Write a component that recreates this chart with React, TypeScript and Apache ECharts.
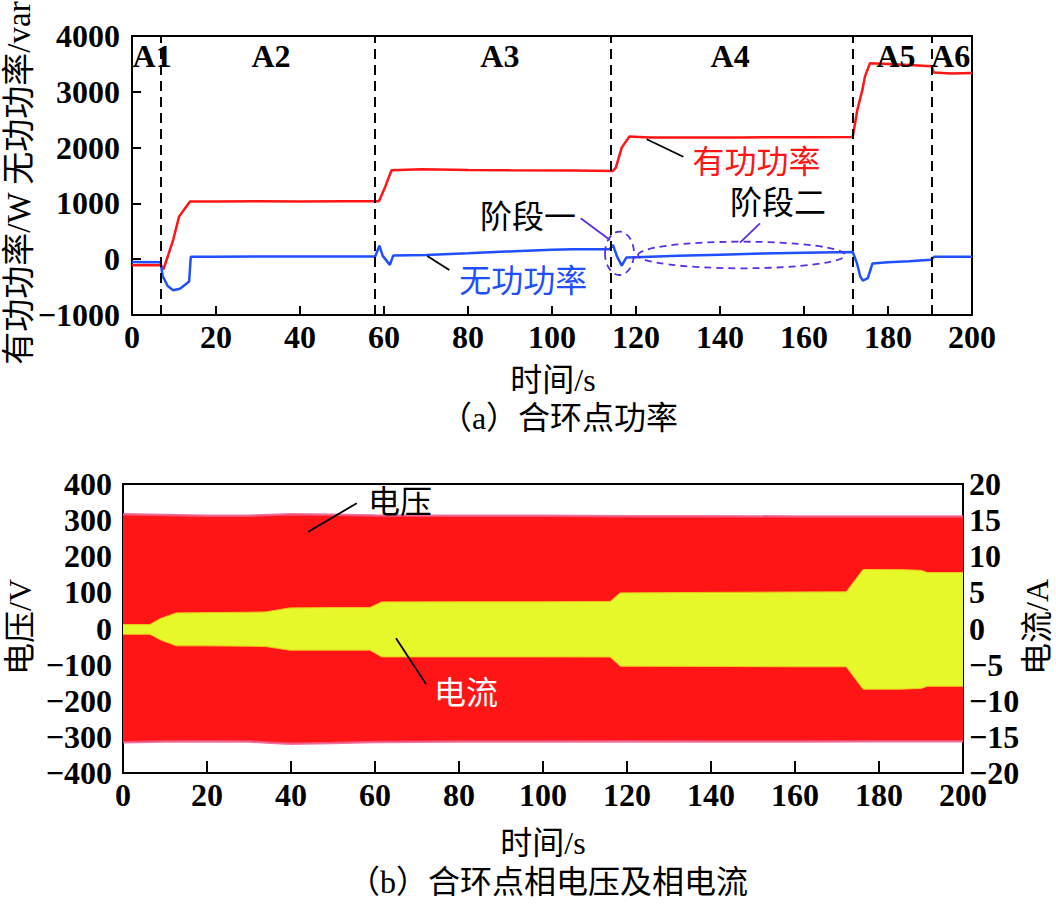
import React, { useEffect, useRef } from "react";
import * as echarts from "echarts";

// ---------- (a) 合环点功率 ----------
const activePower: [number, number][] = [
  [0, -110], [3, -105], [6.8, -110], [7.5, -180], [9.8, 343], [11.2, 763], [13.8, 1035],
  [20, 1035], [30, 1040], [40, 1035], [50, 1040], [58.8, 1040], [60.3, 1300], [61.8, 1595],
  [69, 1610], [80, 1600], [90, 1595], [105, 1588], [114.5, 1580], [115.2, 1640], [116.6, 2000],
  [118.4, 2197], [123.3, 2182], [133, 2180], [145, 2182], [157, 2185], [171.6, 2190],
  [172.7, 2676], [173.9, 3034], [174.5, 3272], [175.7, 3510], [180, 3500], [185, 3480],
  [190.4, 3460], [190.9, 3345], [195, 3330], [200, 3335],
];
const reactivePower: [number, number][] = [
  [0, -50], [6.8, -55], [7.3, -300], [8.5, -480], [9.8, -555], [11.4, -530], [12.8, -450],
  [13.6, -400], [14, 45], [20, 45], [30, 47], [40, 47], [50, 48], [57.9, 47], [58.9, 244],
  [59.7, 60], [61.4, -102], [62.2, 65], [70, 77], [80, 105], [89, 136], [100, 170],
  [105, 179], [113.7, 179], [114.5, 256], [115.5, 47], [116.6, -114], [117.7, 29], [120, 36],
  [130, 60], [140, 80], [150, 100], [160, 115], [171.6, 130], [172.6, -70], [173.4, -310],
  [174, -383], [175.2, -340], [176.3, -75], [180, -55], [185, -35], [190.2, -12], [191, 45],
  [200, 45],
];
const stageBoundaries = [6.8, 57.9, 114, 171.6, 190.4];
const stageNames = ["A1", "A2", "A3", "A4", "A5", "A6"];
const stageNameX = [4.8, 33.1, 87.6, 142.4, 181.9, 194.9];
const stageNameY = 3640;
const powerTicks = { min: -1000, max: 4000, interval: 1000 };

// ---------- (b) 合环点相电压及相电流 ----------
const voltTimes = [0, 10, 20, 30, 35, 40, 50, 60, 80, 100, 120, 140, 160, 180, 200];
const voltUpper = [316, 314, 312, 312, 314, 316, 315, 313, 312, 312, 311, 311, 310, 310, 310];
const voltLower = [-315, -313, -312, -313, -316, -319, -317, -314, -313, -313, -312, -313, -313, -312, -312];
const currTimes = [0, 6.4, 9, 12.7, 20, 30, 34, 39.7, 50, 58.8, 61.6, 80, 100, 116, 118.4, 140, 160, 172.2, 176.2, 185, 190, 191.5, 200];
const currUpper = [0.55, 0.55, 1.4, 2.16, 2.2, 2.25, 2.3, 2.85, 2.9, 2.9, 3.68, 3.7, 3.7, 3.75, 4.93, 5.0, 5.05, 5.07, 8.17, 8.15, 8.05, 7.75, 7.75];
const currLower = [-0.8, -0.8, -1.6, -2.4, -2.4, -2.45, -2.5, -3.0, -3.0, -3.0, -3.93, -3.93, -3.93, -3.95, -5.22, -5.25, -5.3, -5.3, -8.4, -8.4, -8.3, -8.0, -8.0];

const RED = "#ff1515";
const BLUE = "#1f4fff";
const PURPLE = "#5a2ee6";
const YELLOW = "#e6f72a";
const FONT = "'Liberation Serif', 'Noto Sans CJK SC', serif";
const FS = 32;
const NUM_WEIGHT = "bold";

const minus = (v: number) => String(v).replace("-", "\u2212");

function axisCommon(tickLen: number, margin: number) {
  return {
    axisLine: { show: true, onZero: false, lineStyle: { color: "#000", width: 2 } },
    axisTick: { show: true, inside: true, length: tickLen, lineStyle: { color: "#000", width: 2 } },
    splitLine: { show: false },
    axisLabel: {
      color: "#000", fontSize: FS, fontFamily: FONT, fontWeight: NUM_WEIGHT, formatter: minus, margin,
      lineHeight: 26,
    },
  };
}

// one half of an envelope band, filled towards (slightly past) zero so the two halves overlap
function half(times: number[], vals: number[], yAxisIndex: number, fill: string, edge: string, edgeWidth: number, origin: number) {
  return {
    type: "line", xAxisIndex: 1, yAxisIndex, showSymbol: false, silent: true,
    data: times.map((t, i) => [t, vals[i]]),
    lineStyle: { color: edge, width: edgeWidth },
    areaStyle: { color: fill, opacity: 1, origin },
  };
}

export default function App() {
  const ref = useRef<HTMLDivElement>(null);
  useEffect(() => {
    if (!ref.current) return;
    const chart = echarts.init(ref.current, undefined, { renderer: "svg" });
    const txt = (text: string, x: number, y: number, color = "#000", rotation = 0, size = FS) => ({
      type: "text",
      x,
      y,
      rotation,
      style: { text, fill: color, font: `${size}px ${FONT}`, align: "center", verticalAlign: "middle" },
      z: 100,
    });
    const seg = (x1: number, y1: number, x2: number, y2: number, color = "#000") => ({
      type: "line",
      shape: { x1, y1, x2, y2 },
      style: { stroke: color, lineWidth: 1.8 },
      z: 100,
    });
    const ell = (cx: number, cy: number, rx: number, ry: number) => ({
      type: "ellipse",
      shape: { cx, cy, rx, ry },
      style: { stroke: PURPLE, fill: "none", lineWidth: 1.8, lineDash: [7, 5] },
      z: 100,
    });
    chart.setOption({
      animation: false,
      backgroundColor: "#fff",
      textStyle: { fontFamily: FONT },
      grid: [
        { left: 132, top: 36, width: 840, height: 279, show: true, borderColor: "#000", borderWidth: 2, backgroundColor: "transparent" },
        { left: 123, top: 484, width: 840, height: 289, show: true, borderColor: "#000", borderWidth: 2, backgroundColor: "transparent" },
      ],
      xAxis: [
        { gridIndex: 0, type: "value", min: 0, max: 200, interval: 20, ...axisCommon(9, 9) },
        { gridIndex: 1, type: "value", min: 0, max: 200, interval: 20, ...axisCommon(12, 9) },
      ],
      yAxis: [
        { gridIndex: 0, type: "value", ...powerTicks, ...axisCommon(9, 12) },
        { gridIndex: 1, type: "value", min: -400, max: 400, interval: 100, ...axisCommon(12, 11) },
        { gridIndex: 1, type: "value", position: "right", min: -20, max: 20, interval: 5, ...axisCommon(12, 6) },
      ],
      series: [
        {
          type: "line", xAxisIndex: 0, yAxisIndex: 0, data: activePower, showSymbol: false,
          lineStyle: { color: RED, width: 2.5 }, silent: true,
          markLine: {
            silent: true, symbol: "none", label: { show: false },
            lineStyle: { color: "#000", type: [10, 6], width: 2 },
            data: stageBoundaries.map((x) => ({ xAxis: x })),
          },
        },
        {
          type: "line", xAxisIndex: 0, yAxisIndex: 0, data: reactivePower, showSymbol: false,
          lineStyle: { color: BLUE, width: 2.5 }, silent: true,
        },
        {
          type: "scatter", xAxisIndex: 0, yAxisIndex: 0, symbolSize: 0, silent: true, z: 10,
          data: stageNames.map((n, i) => ({ name: n, value: [stageNameX[i], stageNameY] })),
          label: {
            show: true, position: "inside", formatter: "{b}", color: "#000", fontSize: FS,
            fontFamily: FONT, fontWeight: NUM_WEIGHT, textBorderWidth: 0, opacity: 1,
          },
        },
        half(voltTimes, voltUpper, 1, RED, "rgba(238,90,140,0.85)", 2.5, -20),
        half(voltTimes, voltLower, 1, RED, "rgba(238,90,140,0.85)", 2.5, 20),
        half(currTimes, currUpper, 2, YELLOW, "#f0c41e", 1, -0.3),
        half(currTimes, currLower, 2, YELLOW, "#f0c41e", 1, 0.3),
      ],
      graphic: [
        // axis titles and captions
        txt("有功功率/W 无功功率/var", 19, 183, "#000", Math.PI / 2, 33),
        txt("时间/s", 553, 380),
        txt("（a）合环点功率", 559, 418),
        txt("电压/V", 20, 627, "#000", Math.PI / 2),
        txt("电流/A", 1037, 627, "#000", Math.PI / 2),
        txt("时间/s", 543, 843),
        txt("（b）合环点相电压及相电流", 548, 882),
        // annotations (a)
        txt("阶段一", 528, 217),
        seg(580.7, 218.3, 610, 240, PURPLE),
        txt("阶段二", 778, 203),
        seg(760, 223.3, 740, 242.7, PURPLE),
        ell(619.5, 253.3, 14.5, 21.7),
        ell(741.5, 255, 103.5, 13.3),
        txt("有功功率", 756.5, 162, RED),
        seg(646.7, 139.3, 683.3, 156.7),
        txt("无功功率", 523.3, 281, BLUE),
        seg(427.3, 256, 449.3, 270),
        // annotations (b)
        txt("电压", 400, 502),
        seg(308.3, 531.7, 356.7, 503.3),
        txt("电流", 466, 692.5, "#fff"),
        seg(396, 638.3, 426, 684),
      ],
    });
    return () => chart.dispose();
  }, []);
  return (
    <div
      ref={ref}
      style={{ position: "absolute", left: 0, top: 0, width: 1056, height: 904, background: "#fff" }}
    />
  );
}
